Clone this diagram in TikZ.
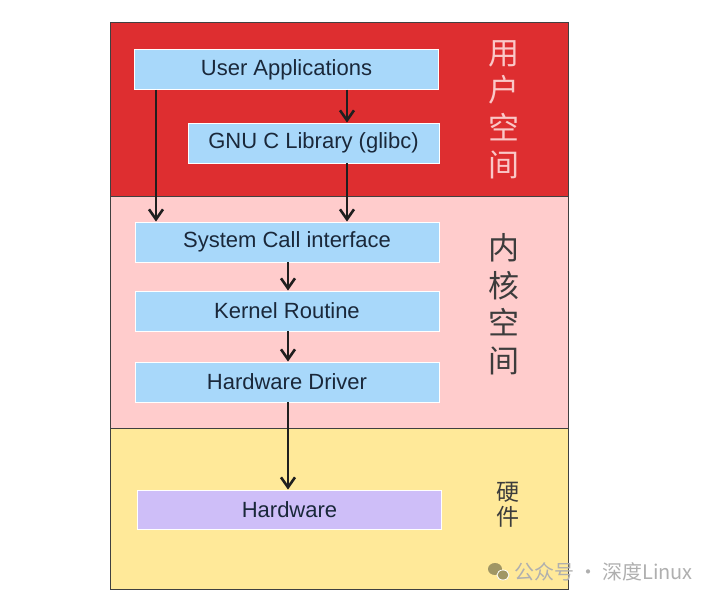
\documentclass[tikz,border=0pt]{standalone}
\usepackage{fontspec}
\setmainfont{Liberation Sans}
\newfontfamily\cjk{Noto Sans CJK SC}
\usetikzlibrary{arrows.meta}
\definecolor{bandred}{RGB}{222,46,48}
\definecolor{bandpink}{RGB}{255,204,204}
\definecolor{bandyellow}{RGB}{255,233,153}
\definecolor{boxblue}{RGB}{168,216,250}
\definecolor{boxpurple}{RGB}{206,190,248}
\definecolor{txtdark}{RGB}{26,40,58}
\definecolor{lblpink}{RGB}{250,200,200}
\definecolor{lbldark}{RGB}{60,60,60}
\definecolor{wmgrey}{RGB}{175,175,175}
\definecolor{wmicon}{RGB}{160,150,100}
\tikzset{
  band/.style={draw=black!75, line width=1pt},
  bluebox/.style={draw=white, line width=0.8pt, fill=boxblue, text=txtdark,
    minimum width=304, minimum height=40, inner sep=0pt,
    font=\fontsize{22}{26}\selectfont},
  hwbox/.style={bluebox, fill=boxpurple},
  arr/.style={draw=black!88, line width=2.9pt,
    -{Straight Barb[length=10pt,width=14pt,line width=2.6pt]}},
  cjklabel/.style={align=center, inner sep=0pt, font=\cjk\fontsize{31}{37.5}\selectfont},
}
\begin{document}
\begin{tikzpicture}[x=1pt,y=-1pt]
\useasboundingbox (0,0) rectangle (720,601);
% bands
\path[band, fill=bandred] (110,23) rectangle (568,197);
\path[band, fill=bandpink] (110,197) rectangle (568,428);
\path[band, fill=bandyellow] (110,428) rectangle (568,589);
% boxes
\node[bluebox] (ua) at (286.5,69.5) {User Applications};
\node[bluebox, minimum width=251] (glibc) at (313.5,143) {GNU C Library (glibc)};
\node[bluebox] (sci) at (287,242) {System Call interface};
\node[bluebox] (kr) at (287,311) {Kernel Routine};
\node[bluebox] (hd) at (287,382) {Hardware Driver};
\node[hwbox, minimum height=39] (hw) at (289.5,509.5) {Hardware};
% connector columns
\coordinate (lx) at (156,0);
\coordinate (rx) at (347,0);
\coordinate (mx) at (288,0);
\draw[arr] (ua.south -| lx) -- (sci.north -| lx);
\draw[arr] (ua.south -| rx) -- (glibc.north -| rx);
\draw[arr] (glibc.south -| rx) -- (sci.north -| rx);
\draw[arr] (sci.south -| mx) -- (kr.north -| mx);
\draw[arr] (kr.south -| mx) -- (hd.north -| mx);
\draw[arr] (hd.south -| mx) -- (hw.north -| mx);
% band labels
\node[cjklabel, text=lblpink] (lu) at (504,110) {用\\户\\空\\间};
\node[cjklabel, text=lbldark] (lk) at (504,304) {内\\核\\空\\间};
\node[cjklabel, text=lbldark, font=\cjk\fontsize{23}{25}\selectfont] (lh) at (508,505) {硬\\件};
% watermark
\fill[wmicon] (495,569) ellipse (7 and 6);
\fill[wmicon, draw=white, line width=0.8pt] (503,575) ellipse (6 and 5);
\node[anchor=west, text=wmgrey, inner sep=0pt, font=\cjk\fontsize{20}{22}\selectfont] (wm) at (514,572) {公众号\hspace{4pt}·\hspace{4pt}深度Linux};
\end{tikzpicture}
\end{document}
